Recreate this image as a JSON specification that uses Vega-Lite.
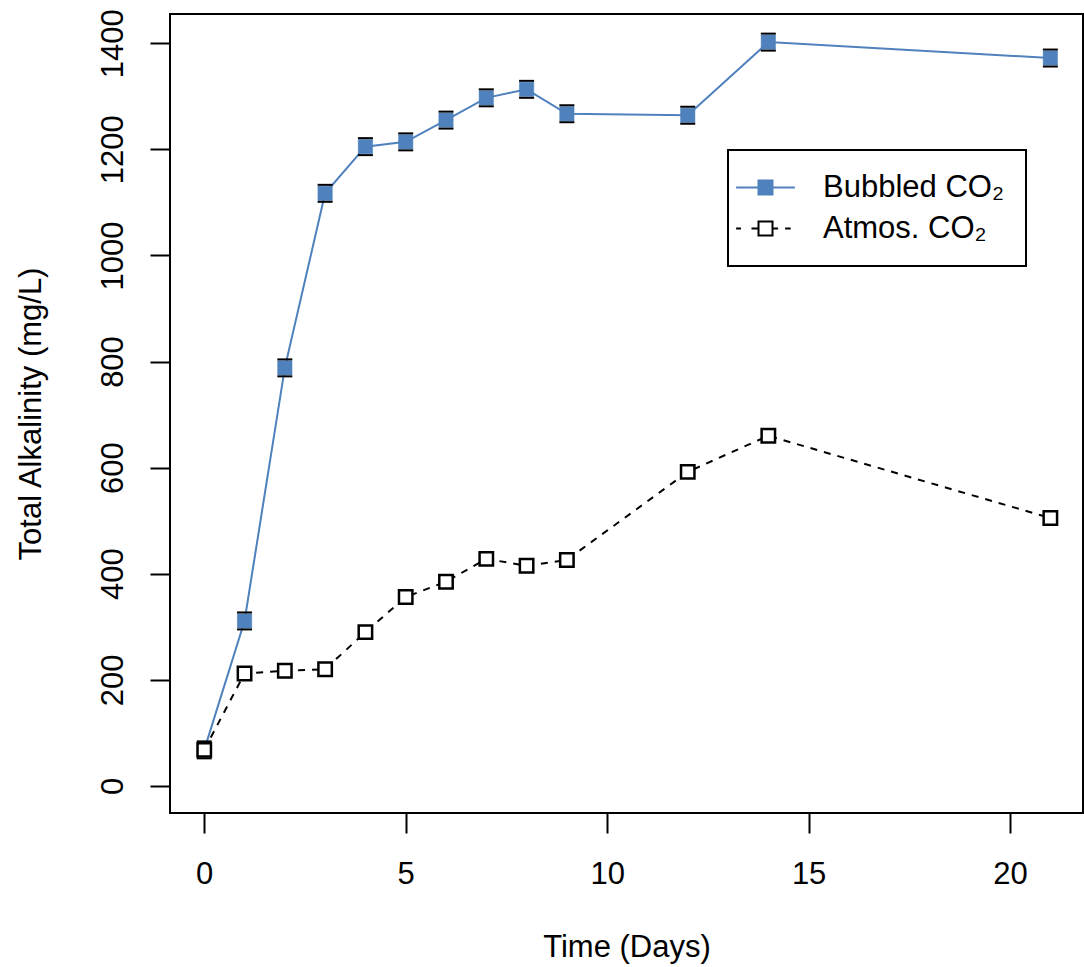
{
  "$schema": "https://vega.github.io/schema/vega-lite/v6.json",
  "autosize": {"type": "none"},
  "padding": {"left": 170, "top": 14, "right": 1, "bottom": 154},
  "width": 913,
  "height": 799,
  "background": "white",
  "config": {
    "view": {"stroke": "black", "strokeWidth": 2},
    "font": "Liberation Sans",
    "axis": {
      "domain": false,
      "grid": false,
      "tickSize": 20,
      "tickWidth": 2,
      "tickColor": "black",
      "labelFont": "Liberation Sans",
      "labelFontSize": 31,
      "labelColor": "black",
      "labelFlush": false,
      "labelOverlap": false,
      "titleFont": "Liberation Sans",
      "titleFontSize": 31,
      "titleFontWeight": "normal",
      "titleColor": "black"
    },
    "legend": {"strokeWidth": 2}
  },
  "data": {
    "values": [
      {"day": 0, "ta": 68, "lo": 52, "hi": 84, "series": "Bubbled CO₂"},
      {"day": 1, "ta": 311, "lo": 295, "hi": 327, "series": "Bubbled CO₂"},
      {"day": 2, "ta": 788, "lo": 772, "hi": 804, "series": "Bubbled CO₂"},
      {"day": 3, "ta": 1117, "lo": 1101, "hi": 1133, "series": "Bubbled CO₂"},
      {"day": 4, "ta": 1205, "lo": 1189, "hi": 1221, "series": "Bubbled CO₂"},
      {"day": 5, "ta": 1214, "lo": 1198, "hi": 1230, "series": "Bubbled CO₂"},
      {"day": 6, "ta": 1255, "lo": 1239, "hi": 1271, "series": "Bubbled CO₂"},
      {"day": 7, "ta": 1297, "lo": 1281, "hi": 1313, "series": "Bubbled CO₂"},
      {"day": 8, "ta": 1313, "lo": 1297, "hi": 1329, "series": "Bubbled CO₂"},
      {"day": 9, "ta": 1267, "lo": 1251, "hi": 1283, "series": "Bubbled CO₂"},
      {"day": 12, "ta": 1264, "lo": 1248, "hi": 1280, "series": "Bubbled CO₂"},
      {"day": 14, "ta": 1402, "lo": 1386, "hi": 1418, "series": "Bubbled CO₂"},
      {"day": 21, "ta": 1372, "lo": 1356, "hi": 1388, "series": "Bubbled CO₂"},
      {"day": 0, "ta": 68, "series": "Atmos. CO₂"},
      {"day": 1, "ta": 212, "series": "Atmos. CO₂"},
      {"day": 2, "ta": 217, "series": "Atmos. CO₂"},
      {"day": 3, "ta": 220, "series": "Atmos. CO₂"},
      {"day": 4, "ta": 290, "series": "Atmos. CO₂"},
      {"day": 5, "ta": 356, "series": "Atmos. CO₂"},
      {"day": 6, "ta": 385, "series": "Atmos. CO₂"},
      {"day": 7, "ta": 428, "series": "Atmos. CO₂"},
      {"day": 8, "ta": 415, "series": "Atmos. CO₂"},
      {"day": 9, "ta": 426, "series": "Atmos. CO₂"},
      {"day": 12, "ta": 592, "series": "Atmos. CO₂"},
      {"day": 14, "ta": 660, "series": "Atmos. CO₂"},
      {"day": 21, "ta": 505, "series": "Atmos. CO₂"}
    ]
  },
  "encoding": {
    "x": {
      "field": "day", "type": "quantitative",
      "scale": {"domain": [-0.85, 21.81], "nice": false, "zero": false},
      "axis": {"values": [0, 5, 10, 15, 20], "format": "d", "title": "Time (Days)", "labelPadding": 26, "titlePadding": 43}
    },
    "y": {
      "field": "ta", "type": "quantitative",
      "scale": {"domain": [-51, 1455], "nice": false, "zero": false},
      "axis": {"values": [0, 200, 400, 600, 800, 1000, 1200, 1400], "format": "d", "title": "Total Alkalinity (mg/L)", "labelAngle": -90, "labelAlign": "center", "labelBaseline": "bottom", "labelPadding": 21, "titlePadding": 50}
    }
  },
  "layer": [
    {
      "transform": [{"filter": "datum.series === 'Bubbled CO₂'"}],
      "mark": {"type": "line", "color": "#4F81BD", "strokeWidth": 2}
    },
    {
      "transform": [{"filter": "datum.series === 'Bubbled CO₂'"}],
      "mark": {"type": "point", "shape": "square", "size": 207, "filled": true, "fill": "#4F81BD", "stroke": "#4F81BD", "strokeWidth": 0.5, "opacity": 1}
    },
    {
      "transform": [{"filter": "datum.series === 'Bubbled CO₂'"}],
      "mark": {"type": "tick", "orient": "horizontal", "size": 15, "thickness": 2, "color": "black", "opacity": 1},
      "encoding": {"y": {"field": "hi", "type": "quantitative"}}
    },
    {
      "transform": [{"filter": "datum.series === 'Bubbled CO₂'"}],
      "mark": {"type": "tick", "orient": "horizontal", "size": 15, "thickness": 2, "color": "black", "opacity": 1},
      "encoding": {"y": {"field": "lo", "type": "quantitative"}}
    },
    {
      "transform": [{"filter": "datum.series === 'Atmos. CO₂'"}],
      "mark": {"type": "line", "color": "black", "strokeWidth": 2, "strokeDash": [7, 7]}
    },
    {
      "transform": [{"filter": "datum.series === 'Atmos. CO₂'"}],
      "mark": {"type": "point", "shape": "square", "size": 180, "filled": false, "fill": "white", "fillOpacity": 1, "stroke": "black", "strokeWidth": 2.5, "opacity": 1}
    },
    {
      "transform": [{"filter": "false"}],
      "mark": {"type": "point", "strokeWidth": 2},
      "encoding": {
        "shape": {
          "field": "series", "type": "nominal",
          "scale": {"domain": ["Bubbled CO₂", "Atmos. CO₂"], "range": [
            "M-2.1,0H2.1M-0.5,-0.5H0.5V0.5H-0.5Z",
            "M-2.1,0H-1.75M-1,0H-0.55M0.55,0H0.9M1.4,0H1.8M-0.5,-0.5H0.5V0.5H-0.5Z"
          ]},
          "legend": {
            "title": null, "orient": "none", "legendX": 558, "legendY": 136,
            "strokeColor": "black", "padding": 22, "rowPadding": 9,
            "symbolSize": 784, "symbolStrokeWidth": 2, "symbolOpacity": 1,
            "labelOffset": 42, "labelFont": "Liberation Sans", "labelFontSize": 31,
            "labelColor": "black", "labelLimit": 500, "fillColor": "white"
          }
        },
        "fill": {
          "field": "series", "type": "nominal",
          "scale": {"domain": ["Bubbled CO₂", "Atmos. CO₂"], "range": ["#4F81BD", "white"]},
          "legend": {"title": null}
        },
        "stroke": {
          "field": "series", "type": "nominal",
          "scale": {"domain": ["Bubbled CO₂", "Atmos. CO₂"], "range": ["#4F81BD", "black"]},
          "legend": {"title": null}
        }
      }
    }
  ]
}
